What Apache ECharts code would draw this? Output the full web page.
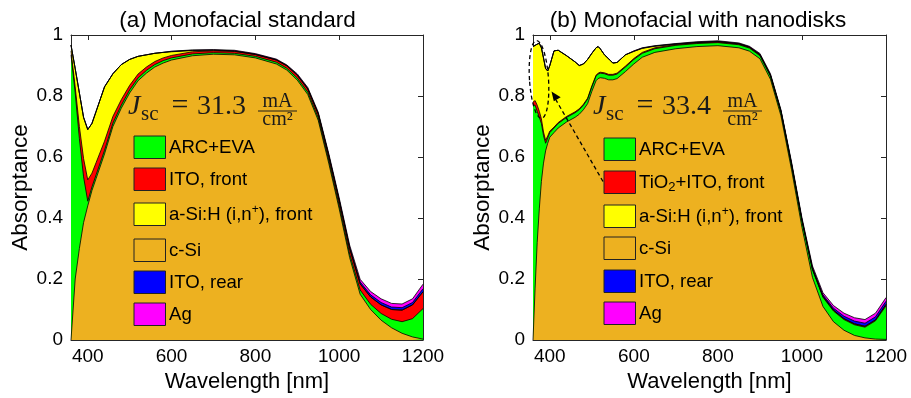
<!DOCTYPE html>
<html><head><meta charset="utf-8">
<script src="https://cdn.jsdelivr.net/npm/echarts@6/dist/echarts.min.js"></script>
<style>html,body{margin:0;padding:0;background:#fff}#c{width:911px;height:398px}</style>
</head><body><div id="c"></div>
<script>
// ---------- data ----------
const xTicks = [400, 600, 800, 1000, 1200];

// (a) Monofacial standard
const wlA   = [360,370,380,390,400,410,420,440,460,480,500,520,540,560,580,600,650,700,750,800,850,875,900,925,950,975,1000,1025,1050,1075,1100,1125,1150,1175,1200];
const cSiA  = [0,.20,.30,.385,.44,.49,.53,.61,.70,.76,.81,.85,.875,.895,.908,.918,.932,.937,.935,.925,.905,.885,.852,.805,.72,.58,.43,.27,.15,.10,.065,.04,.022,.01,.003];
const arcA  = [.935,.61,.36,.15,.015,.012,.012,.012,.011,.01,.01,.009,.009,.008,.008,.007,.006,.005,.005,.005,.006,.006,.007,.008,.009,.01,.011,.012,.014,.017,.022,.028,.038,.06,.10];
const itoFA = [.013,.02,.04,.06,.07,.045,.04,.03,.022,.018,.015,.013,.011,.01,.009,.008,.007,.006,.006,.006,.007,.008,.009,.01,.012,.014,.016,.018,.02,.024,.028,.032,.038,.045,.055];
const aSiA  = [.019,.06,.11,.135,.165,.163,.168,.178,.14,.115,.085,.058,.04,.027,.018,.012,.004,.002,.001,0,0,0,0,0,0,0,0,0,0,0,0,0,0,0,0];
const itoRA = [0,0,0,0,0,0,0,0,0,0,0,0,0,0,0,.001,.001,.001,.001,.001,.001,.001,.0015,.002,.002,.003,.003,.004,.006,.007,.008,.008,.008,.008,.01];
const agA   = [0,0,0,0,0,0,0,0,0,0,0,0,0,0,0,.001,.001,.001,.002,.002,.002,.002,.003,.003,.004,.005,.006,.007,.009,.011,.012,.012,.012,.012,.015];

// (b) Monofacial with nanodisks
const wlB   = [360,365,370,375,380,385,390,395,400,410,420,440,460,470,480,490,500,510,515,520,530,540,550,560,580,600,620,650,700,750,800,850,875,900,925,950,975,1000,1025,1050,1075,1100,1125,1150,1175,1200];
const cSiB  = [0,.17,.32,.43,.52,.58,.62,.645,.665,.68,.695,.715,.73,.74,.755,.775,.815,.85,.857,.86,.858,.853,.853,.857,.88,.905,.927,.943,.955,.962,.965,.958,.947,.922,.855,.735,.56,.37,.205,.11,.06,.032,.015,.007,.003,.002];
const arcB  = [.77,.6,.43,.3,.19,.09,.025,.017,.015,.015,.015,.015,.015,.015,.015,.015,.015,.015,.015,.015,.015,.015,.015,.015,.015,.015,.013,.012,.011,.01,.01,.01,.01,.01,.01,.012,.015,.02,.025,.03,.035,.035,.035,.035,.06,.11];
const itoFB = [.01,.015,.02,.02,.015,.012,.01,.007,.005,.003,.003,.003,.003,.003,.003,.003,.003,.003,.003,.003,.003,.003,.003,.003,.003,.003,.003,.003,.003,.003,.003,.003,.003,.003,.003,.003,.003,.003,.003,.003,.003,.003,.003,.003,.003,.005];
const aSiB  = [.182,.181,.2,.223,.233,.243,.235,.213,.215,.25,.237,.199,.164,.142,.132,.127,.107,.09,.087,.077,.059,.051,.037,.035,.037,.023,.013,.005,.001,0,0,0,0,0,0,0,0,0,0,0,0,0,0,0,0,0];
const itoRB = [0,0,0,0,0,0,0,0,0,0,0,0,0,0,0,0,0,0,0,0,0,0,0,0,0,.001,.001,.001,.001,.001,.001,.001,.001,.0015,.002,.002,.003,.003,.004,.005,.006,.008,.009,.01,.01,.01];
const agB   = [0,0,0,0,0,0,0,0,0,0,0,0,0,0,0,0,0,0,0,0,0,0,0,0,0,.001,.001,.001,.001,.002,.002,.002,.002,.003,.003,.003,.004,.005,.006,.007,.009,.01,.011,.012,.012,.012];

const seriesNames = ['c-Si', 'ARC+EVA', 'ITO, front', 'a-Si:H (i,n+), front', 'ITO, rear', 'Ag'];
const legendA = ['ARC+EVA', 'ITO, front', 'a-Si:H (i,n{sup|+}), front', 'c-Si', 'ITO, rear', 'Ag'];
const legendB = ['ARC+EVA', 'TiO{sub|2}+ITO, front', 'a-Si:H (i,n{sup|+}), front', 'c-Si', 'ITO, rear', 'Ag'];
const jscA = '31.3';
const jscB = '33.4';

// ---------- style ----------
const COL = { cSi: '#EDB120', arc: '#00FF00', itoF: '#FF0000', aSi: '#FFFF00', itoR: '#0000FF', ag: '#FF00FF' };
const stackColors = [COL.cSi, COL.arc, COL.itoF, COL.aSi, COL.itoR, COL.ag];
const legendColors = [COL.arc, COL.itoF, COL.aSi, COL.cSi, COL.itoR, COL.ag];
const AX = '#262626';
const SANS = 'Liberation Sans, Arial, Helvetica, sans-serif';
const SERIF = 'Liberation Serif, Times New Roman, serif';

// stacked areas: cumulative sums, painted top layer first so lower layers cover them
function makeSeries(axisIdx, wl, layers, suffix) {
  const cum = [];
  let run = wl.map(() => 0);
  layers.forEach(arr => { run = run.map((v, i) => v + arr[i]); cum.push(run.slice()); });
  const out = [];
  for (let k = layers.length - 1; k >= 0; k--) {
    out.push({
      name: seriesNames[k] + suffix,
      type: 'line',
      xAxisIndex: axisIdx, yAxisIndex: axisIdx,
      data: wl.map((w, i) => [w, cum[k][i]]),
      symbol: 'none', smooth: false, clip: true,
      lineStyle: { color: '#000', width: 0.8 },
      itemStyle: { color: stackColors[k] },
      areaStyle: { color: stackColors[k], opacity: 1, origin: 'start' },
      emphasis: { disabled: true }, silent: true
    });
  }
  return out;
}

function xAx(grid, pos) {
  const bottom = pos === 'bottom';
  return {
    type: 'value', gridIndex: grid, position: pos, min: 360, max: 1200,
    axisLine: { show: true, onZero: false, lineStyle: { color: AX, width: 1 } },
    axisTick: { show: true, inside: true, length: 5, customValues: xTicks, lineStyle: { color: AX, width: 1 } },
    axisLabel: { show: bottom, customValues: xTicks, formatter: v => String(v), margin: 7, color: '#000', fontSize: 19, fontFamily: SANS },
    splitLine: { show: false },
    name: bottom ? 'Wavelength [nm]' : '', nameLocation: 'middle', nameGap: 30,
    nameTextStyle: { color: '#000', fontSize: 22, fontFamily: SANS }
  };
}
function yAx(grid, pos, gap) {
  const left = pos === 'left';
  return {
    type: 'value', gridIndex: grid, position: pos, min: 0, max: 1, interval: 0.2,
    axisLine: { show: true, onZero: false, lineStyle: { color: AX, width: 1 } },
    axisTick: { show: true, inside: true, length: 5, lineStyle: { color: AX, width: 1 } },
    axisLabel: { show: left, margin: 8, color: '#000', fontSize: 19, fontFamily: SANS },
    splitLine: { show: false },
    name: left ? 'Absorptance' : '', nameLocation: 'middle', nameGap: gap,
    nameTextStyle: { color: '#000', fontSize: 22.5, fontFamily: SANS }
  };
}

// ---------- annotations ----------
const graphics = [];
function text(x, y, t, font, extra) {
  graphics.push({ type: 'text', silent: true, z: 100,
    style: Object.assign({ x: x, y: y, text: t, font: font, fill: '#000', align: 'left', verticalAlign: 'middle' }, extra || {}) });
}
text(237.5, 20.5, '(a) Monofacial standard', '22.5px ' + SANS, { align: 'center' });
text(698, 20.5, '(b) Monofacial with nanodisks', '22.5px ' + SANS, { align: 'center' });

function jsc(dx, val) {
  const c = '#1a1a1a';
  text(128 + dx, 106.5, 'J', 'italic 28px ' + SERIF, { fill: c });
  text(141 + dx, 114.5, 'sc', '21px ' + SERIF, { fill: c });
  text(180 + dx, 106.5, '=', '30px ' + SERIF, { fill: c, align: 'center' });
  text(197 + dx, 106.5, val, '28px ' + SERIF, { fill: c });
  text(277.5 + dx, 101.5, 'mA', '20px ' + SERIF, { fill: c, align: 'center' });
  text(277.5 + dx, 119.5, 'cm\u00B2', '20px ' + SERIF, { fill: c, align: 'center' });
  graphics.push({ type: 'line', silent: true, z: 100, shape: { x1: 258 + dx, y1: 111, x2: 297 + dx, y2: 111 }, style: { stroke: c, lineWidth: 1 } });
}
jsc(0, jscA);
jsc(465, jscB);

function legend(x0, tops, labels) {
  labels.forEach((lab, i) => {
    graphics.push({ type: 'rect', silent: true, z: 100,
      shape: { x: x0, y: tops[i], width: 31.5, height: 22.5 },
      style: { fill: legendColors[i], stroke: '#222', lineWidth: 1 } });
    graphics.push({ type: 'text', silent: true, z: 100,
      style: { x: x0 + 35, y: tops[i] + 11.5, text: lab, font: '18.6px ' + SANS, fill: '#000',
        align: 'left', verticalAlign: 'middle', lineHeight: 22,
        rich: {
          sup: { fontSize: 12, lineHeight: 12, verticalAlign: 'top', fontFamily: SANS },
          sub: { fontSize: 13, lineHeight: 13, verticalAlign: 'bottom', fontFamily: SANS }
        } } });
  });
}
legend(134, [136, 168, 203, 239, 271, 303], legendA);
legend(604, [138, 171, 205, 237, 270, 302], legendB);

graphics.push({ type: 'ellipse', silent: true, z: 101, x: 539, y: 79.5, rotation: 0.065,
  shape: { cx: 0, cy: 0, rx: 9.5, ry: 39 },
  style: { fill: 'none', stroke: '#000', lineWidth: 1.3, lineDash: [4, 3] } });
graphics.push({ type: 'line', silent: true, z: 101,
  shape: { x1: 603, y1: 181.5, x2: 556, y2: 100 },
  style: { stroke: '#000', lineWidth: 1.3, lineDash: [4, 3] } });
graphics.push({ type: 'polygon', silent: true, z: 101,
  shape: { points: [[551.5, 91.5], [560.7, 97.2], [553.8, 101.2]] },
  style: { fill: '#000' } });

const option = {
  animation: false,
  backgroundColor: '#fff',
  grid: [
    { left: 71, top: 35, width: 352, height: 305, containLabel: false },
    { left: 533, top: 35, width: 353, height: 305, containLabel: false }
  ],
  xAxis: [xAx(0, 'bottom'), xAx(0, 'top'), xAx(1, 'bottom'), xAx(1, 'top')],
  yAxis: [yAx(0, 'left', 39), yAx(0, 'right', 0), yAx(1, 'left', 38), yAx(1, 'right', 0)],
  series: [].concat(
    makeSeries(0, wlA, [cSiA, arcA, itoFA, aSiA, itoRA, agA], ' (a)'),
    makeSeries(2, wlB, [cSiB, arcB, itoFB, aSiB, itoRB, agB], ' (b)')
  ),
  graphic: graphics
};

const chart = echarts.init(document.getElementById('c'), null, { renderer: 'canvas' });
chart.setOption(option);
</script>
</body></html>
